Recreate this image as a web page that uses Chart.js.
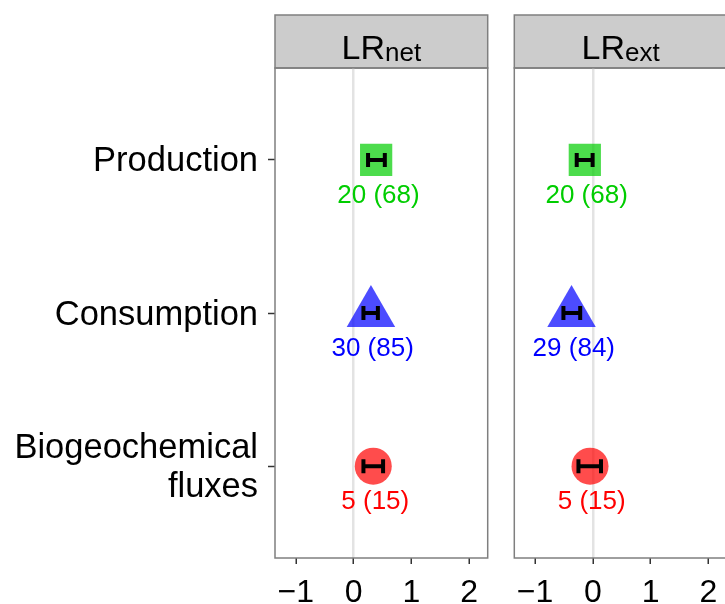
<!DOCTYPE html>
<html>
<head>
<meta charset="utf-8">
<script src="https://cdn.jsdelivr.net/npm/chart.js@4.4.1/dist/chart.umd.min.js"></script>
<style>
html, body { margin: 0; padding: 0; background: #fff; overflow: hidden; }
#wrap { position: relative; width: 725px; height: 604px; overflow: hidden; }
#c1 { position: absolute; left: 0; top: 0; }
#c2 { position: absolute; left: 500px; top: 0; }
</style>
</head>
<body>
<div id="wrap">
  <canvas id="c1" width="500" height="604"></canvas>
  <canvas id="c2" width="240" height="604"></canvas>
</div>
<script>
// categories, top to bottom
const categories = ["Production", "Consumption", ["Biogeochemical", "fluxes"]];
const xTicks = [-1, 0, 1, 2];

// LR net panel
const netMean = [0.39, 0.30, 0.34];
const netLow = [0.25, 0.17, 0.17];
const netHigh = [0.54, 0.42, 0.51];
const netStudies = [20, 30, 5];
const netObs = [68, 85, 15];

// LR ext panel
const extMean = [-0.14, -0.37, -0.05];
const extLow = [-0.28, -0.51, -0.25];
const extHigh = [-0.005, -0.22, 0.14];
const extStudies = [20, 29, 5];
const extObs = [68, 84, 15];

const markerStyles = ["rect", "triangle", "circle"];
const markerRadii = [22.8, 28, 18.5];
const markerFills = ["rgba(0,205,0,0.7)", "rgba(0,0,255,0.7)", "rgba(255,0,0,0.7)"];
const textColors = ["#00CD00", "#0000FF", "#FF0000"];

const FONT = "'Liberation Sans', Arial, Helvetica, sans-serif";

// draws the grey strip, error bars, count labels and panel border
function facetPlugin(title, sub, low, high, studies, obs) {
    return {
        id: "facet",
        beforeDraw(chart) {
            const ctx = chart.ctx;
            const a = chart.chartArea;
            ctx.save();
            ctx.fillStyle = "#CCCCCC";
            ctx.fillRect(a.left, 15, a.right - a.left, a.top - 15);
            ctx.strokeStyle = "#7F7F7F";
            ctx.lineWidth = 1.5;
            ctx.strokeRect(a.left, 15, a.right - a.left, a.top - 15);
            // strip label with subscript
            ctx.fillStyle = "#000";
            ctx.textBaseline = "alphabetic";
            ctx.font = "34px " + FONT;
            const w1 = ctx.measureText(title).width;
            ctx.font = "26px " + FONT;
            const w2 = ctx.measureText(sub).width;
            const cx = (a.left + a.right) / 2;
            const x0 = cx - (w1 + w2) / 2;
            ctx.font = "34px " + FONT;
            ctx.fillText(title, x0, 59);
            ctx.font = "26px " + FONT;
            ctx.fillText(sub, x0 + w1, 61);
            ctx.restore();
        },
        afterDatasetsDraw(chart) {
            const ctx = chart.ctx;
            const xs = chart.scales.x;
            const ys = chart.scales.y;
            ctx.save();
            categories.forEach((c, i) => {
                const py = ys.getPixelForValue(i + 1);
                const x1 = xs.getPixelForValue(low[i]);
                const x2 = xs.getPixelForValue(high[i]);
                ctx.strokeStyle = "#000";
                ctx.lineWidth = 4;
                ctx.lineCap = "butt";
                ctx.beginPath();
                ctx.moveTo(x1, py);
                ctx.lineTo(x2, py);
                ctx.moveTo(x1, py - 7);
                ctx.lineTo(x1, py + 7);
                ctx.moveTo(x2, py - 7);
                ctx.lineTo(x2, py + 7);
                ctx.stroke();

                const px = xs.getPixelForValue((low[i] + high[i]) / 2);
                ctx.fillStyle = textColors[i];
                ctx.font = "26px " + FONT;
                ctx.textAlign = "center";
                ctx.textBaseline = "middle";
                ctx.fillText(studies[i] + " (" + obs[i] + ")", px + 2, py + 36);
            });
            ctx.restore();
        },
        afterDraw(chart) {
            const ctx = chart.ctx;
            const a = chart.chartArea;
            ctx.save();
            ctx.strokeStyle = "#7F7F7F";
            ctx.lineWidth = 1.5;
            ctx.strokeRect(a.left, a.top, a.right - a.left, a.bottom - a.top);
            ctx.restore();
        }
    };
}

function makePanel(canvasId, mean, showY, padding, plugin) {
    const ctx = document.getElementById(canvasId).getContext("2d");
    return new Chart(ctx, {
        type: "scatter",
        data: {
            datasets: [{
                data: categories.map((c, i) => ({ x: mean[i], y: i + 1 })),
                pointStyle: markerStyles,
                pointRadius: markerRadii,
                pointHoverRadius: markerRadii,
                backgroundColor: markerFills,
                borderWidth: 0
            }]
        },
        options: {
            responsive: false,
            animation: false,
            events: [],
            layout: { padding: padding, autoPadding: false },
            plugins: { legend: { display: false }, tooltip: { enabled: false } },
            scales: {
                x: {
                    type: "linear",
                    min: -1.36,
                    max: 2.32,
                    afterBuildTicks: s => { s.ticks = xTicks.map(v => ({ value: v })); },
                    afterFit: s => {
                        s.height = 46;
                        s.paddingLeft = 0;
                        s.paddingRight = 0;
                    },
                    border: { display: false },
                    grid: {
                        color: c => (c.tick && c.tick.value === 0) ? "#E3E3E3" : "rgba(0,0,0,0)",
                        lineWidth: 2.5,
                        tickColor: "#333",
                        tickWidth: 1.5,
                        tickLength: 6
                    },
                    ticks: {
                        autoSkip: false,
                        maxRotation: 0,
                        padding: 10,
                        color: "#000",
                        font: { family: FONT, size: 32 },
                        callback: v => v < 0 ? "\u2212" + Math.abs(v) : String(v)
                    }
                },
                y: {
                    type: "linear",
                    display: showY,
                    reverse: true,
                    min: 0.4,
                    max: 3.6,
                    afterBuildTicks: s => { s.ticks = categories.map((c, i) => ({ value: i + 1 })); },
                    afterFit: s => {
                        s.width = showY ? 275 : 0;
                        s.paddingTop = 0;
                        s.paddingBottom = 0;
                    },
                    border: { display: false },
                    grid: {
                        color: "rgba(0,0,0,0)",
                        tickColor: "#333",
                        tickWidth: 1.5,
                        tickLength: 7
                    },
                    ticks: {
                        autoSkip: false,
                        padding: 10,
                        labelOffset: 2,
                        color: "#000",
                        font: { family: FONT, size: 34.5, lineHeight: 1.14 },
                        callback: v => categories[Math.round(v) - 1]
                    }
                }
            }
        },
        plugins: [plugin]
    });
}

makePanel("c1", netMean, true, { top: 68, right: 12.3, left: 0, bottom: 0 },
    facetPlugin("LR", "net", netLow, netHigh, netStudies, netObs));
makePanel("c2", extMean, false, { top: 68, right: 13, left: 14.3, bottom: 0 },
    facetPlugin("LR", "ext", extLow, extHigh, extStudies, extObs));
</script>
</body>
</html>
